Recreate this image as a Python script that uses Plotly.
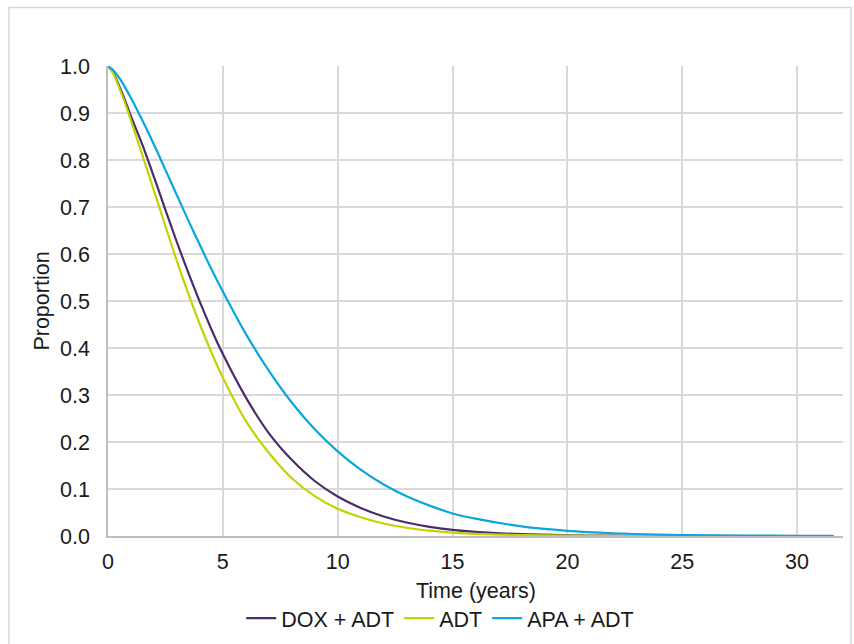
import plotly.graph_objects as go

time_years = [0, 0.25, 0.5, 0.75, 1, 1.5, 2, 2.5, 3, 3.5, 4, 4.5, 5, 6, 7, 8, 9, 10, 11, 12, 13, 14,
              15, 16, 18, 20, 22, 24, 26, 28, 30, 31.6]

dox_adt = [1.0, 0.984, 0.956, 0.926, 0.893, 0.832, 0.764, 0.694, 0.625, 0.560, 0.498, 0.440, 0.387,
           0.295, 0.219, 0.162, 0.117, 0.084, 0.0596, 0.0416, 0.0287, 0.0196,
           0.0132, 0.0088, 0.0038, 0.0016, 0.0007, 0.0003, 0.0001, 0.00004, 0.00001, 0.0]

adt = [1.0, 0.982, 0.952, 0.920, 0.884, 0.810, 0.735, 0.659, 0.585, 0.515, 0.450, 0.391, 0.337,
       0.245, 0.177, 0.123, 0.085, 0.058, 0.040, 0.0267, 0.0175, 0.0113,
       0.0072, 0.0046, 0.0018, 0.0007, 0.0002, 0.00007, 0.00002, 0.0, 0.0, 0.0]

apa_adt = [1.0, 0.990, 0.974, 0.954, 0.932, 0.884, 0.833, 0.779, 0.725, 0.671, 0.619, 0.568, 0.520,
           0.430, 0.352, 0.284, 0.227, 0.180, 0.141, 0.1095, 0.0844, 0.0646,
           0.048, 0.0369, 0.0205, 0.0111, 0.0059, 0.0030, 0.0015, 0.0008, 0.0004, 0.0002]

series_names = ["DOX + ADT", "ADT", "APA + ADT"]
series_values = [dox_adt, adt, apa_adt]
series_colors = ["#4a2c6e", "#c5d200", "#0aa6df"]

x_ticks = [0, 5, 10, 15, 20, 25, 30]
y_ticks = [0.0, 0.1, 0.2, 0.3, 0.4, 0.5, 0.6, 0.7, 0.8, 0.9, 1.0]
x_title = "Time (years)"
y_title = "Proportion"

FONT = "Liberation Sans, Arial, sans-serif"
FS = 21.5

fig = go.Figure()
for name, vals, col in zip(series_names, series_values, series_colors):
    fig.add_trace(go.Scatter(
        x=time_years, y=vals, mode="lines", name=name,
        line=dict(color=col, width=2.2, shape="spline", smoothing=0.8),
    ))

fig.update_layout(
    width=854, height=644,
    margin=dict(l=108, r=11, t=66, b=108),
    paper_bgcolor="white", plot_bgcolor="white",
    font=dict(family=FONT, size=FS, color="#1a1a1a"),
    showlegend=True,
    legend=dict(orientation="h", x=0.452, xanchor="center",
                yref="container", y=0.040, yanchor="middle",
                font=dict(family=FONT, size=FS, color="#1a1a1a"),
                tracegroupgap=0),
    xaxis=dict(range=[0, 32], tickvals=x_ticks, showgrid=True, gridcolor="#d9d9d9",
               gridwidth=1.5, zeroline=False, showline=True, linecolor="#bfbfbf",
               linewidth=1.5, ticks="outside", ticklen=5, tickcolor="rgba(0,0,0,0)",
               tickfont=dict(size=FS), automargin=False),
    yaxis=dict(range=[0, 1], tickvals=y_ticks, tickformat=".1f", showgrid=True,
               gridcolor="#d9d9d9", gridwidth=1.5, zeroline=False, showline=True,
               linecolor="#bfbfbf", linewidth=1.5, ticks="outside", ticklen=12,
               tickcolor="rgba(0,0,0,0)", tickfont=dict(size=FS), automargin=False,
               title=dict(text=y_title, font=dict(size=FS), standoff=5)),
    annotations=[dict(text=x_title, xref="paper", yref="paper", x=0.5, y=-0.117,
                      xanchor="center", yanchor="middle", showarrow=False,
                      font=dict(family=FONT, size=FS, color="#1a1a1a"))],
    shapes=[dict(type="rect", xref="paper", yref="paper", x0=-0.1348, x1=1.0109,
                 y0=-0.3, y1=1.1245, line=dict(color="#d9d9d9", width=1.5),
                 fillcolor="rgba(0,0,0,0)", layer="below")],
)

fig.write_html("out.html", config={"displayModeBar": False},
               post_script="document.body.style.margin='0px';")
